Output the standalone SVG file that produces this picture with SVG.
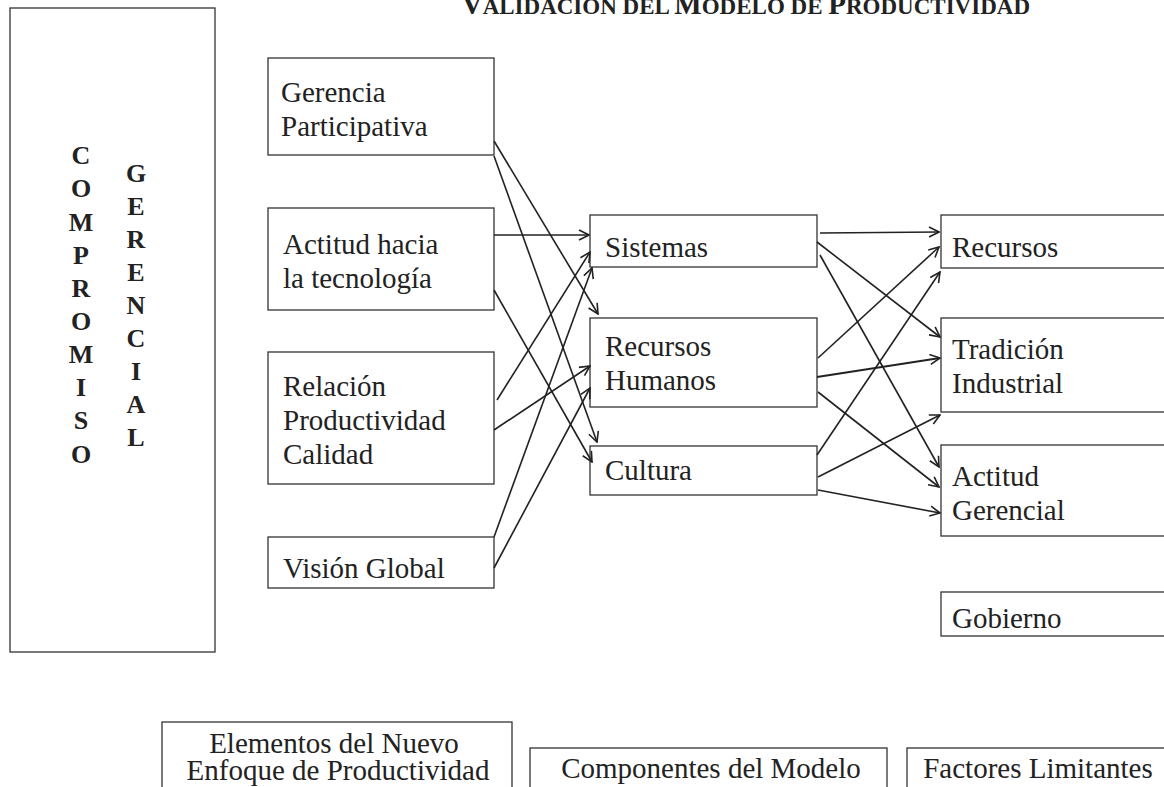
<svg xmlns="http://www.w3.org/2000/svg" width="1164" height="787" viewBox="0 0 1164 787">
<style>
.box{fill:#fff;stroke:#333;stroke-width:1.3}
.t{font-family:"Liberation Serif","Times New Roman",serif;font-size:29px;fill:#222}
.v{font-family:"Liberation Serif","Times New Roman",serif;font-size:26px;font-weight:bold;fill:#222;text-anchor:middle}
.c{text-anchor:middle}
.ttl{font-family:"Liberation Serif","Times New Roman",serif;font-weight:bold;fill:#222;text-anchor:end}
.e{fill:none;stroke:#222;stroke-width:1.6;marker-end:url(#ah)}
</style>
<defs>
<marker id="ah" viewBox="0 0 12 12" refX="11" refY="6" markerWidth="12" markerHeight="12" markerUnits="userSpaceOnUse" orient="auto">
<path d="M1,1 L11,6 L1,11" fill="none" stroke="#222" stroke-width="1.6"/>
</marker>
</defs>
<rect width="1164" height="787" fill="#fff"/>
<text class="ttl" x="1030" y="14"><tspan font-size="29">V</tspan><tspan font-size="23">ALIDACIÓN DEL </tspan><tspan font-size="29">M</tspan><tspan font-size="23">ODELO DE </tspan><tspan font-size="29">P</tspan><tspan font-size="23">RODUCTIVIDAD</tspan></text>
<g id="compromiso">
<rect class="box" x="10" y="8" width="205" height="644"/>
<text class="v" x="81" y="164">C</text>
<text class="v" x="81" y="197">O</text>
<text class="v" x="81" y="231">M</text>
<text class="v" x="81" y="264">P</text>
<text class="v" x="81" y="297">R</text>
<text class="v" x="81" y="330">O</text>
<text class="v" x="81" y="363">M</text>
<text class="v" x="81" y="396">I</text>
<text class="v" x="81" y="429">S</text>
<text class="v" x="81" y="463">O</text>
<text class="v" x="136" y="182">G</text>
<text class="v" x="136" y="215">E</text>
<text class="v" x="136" y="248">R</text>
<text class="v" x="136" y="281">E</text>
<text class="v" x="136" y="314">N</text>
<text class="v" x="136" y="347">C</text>
<text class="v" x="136" y="380">I</text>
<text class="v" x="136" y="413">A</text>
<text class="v" x="136" y="446">L</text>
</g>
<g id="gerencia"><rect class="box" x="268" y="58" width="226" height="97"/><text class="t" x="281" y="102">Gerencia</text><text class="t" x="281" y="136">Participativa</text></g>
<g id="actitud-tec"><rect class="box" x="268" y="208" width="226" height="102"/><text class="t" x="283" y="254">Actitud hacia</text><text class="t" x="283" y="288">la tecnología</text></g>
<g id="relacion"><rect class="box" x="268" y="352" width="226" height="132"/><text class="t" x="283" y="396">Relación</text><text class="t" x="283" y="430">Productividad</text><text class="t" x="283" y="464">Calidad</text></g>
<g id="vision"><rect class="box" x="268" y="537" width="226" height="51"/><text class="t" x="283" y="578">Visión Global</text></g>
<g id="sistemas"><rect class="box" x="590" y="215" width="227" height="52"/><text class="t" x="605" y="257">Sistemas</text></g>
<g id="rrhh"><rect class="box" x="590" y="318" width="227" height="89"/><text class="t" x="605" y="356">Recursos</text><text class="t" x="605" y="390">Humanos</text></g>
<g id="cultura"><rect class="box" x="590" y="446" width="227" height="49"/><text class="t" x="605" y="480">Cultura</text></g>
<g id="recursos"><rect class="box" x="941" y="215" width="240" height="53"/><text class="t" x="952" y="257">Recursos</text></g>
<g id="tradicion"><rect class="box" x="941" y="318" width="240" height="94"/><text class="t" x="952" y="359">Tradición</text><text class="t" x="952" y="393">Industrial</text></g>
<g id="actitud-ger"><rect class="box" x="941" y="445" width="240" height="91"/><text class="t" x="952" y="486">Actitud</text><text class="t" x="952" y="520">Gerencial</text></g>
<g id="gobierno"><rect class="box" x="941" y="592" width="240" height="44"/><text class="t" x="952" y="628">Gobierno</text></g>
<g id="leyenda-elementos"><rect class="box" x="162" y="722" width="350" height="80"/><text class="t c" x="334" y="753">Elementos del Nuevo</text><text class="t c" x="338" y="780">Enfoque de Productividad</text></g>
<g id="leyenda-componentes"><rect class="box" x="530" y="748" width="357" height="60"/><text class="t c" x="711" y="778">Componentes del Modelo</text></g>
<g id="leyenda-factores"><rect class="box" x="907" y="748" width="280" height="60"/><text class="t c" x="1038" y="778">Factores Limitantes</text></g>
<g id="connectors">
<line class="e" x1="494" y1="141" x2="598" y2="314"/>
<line class="e" x1="494" y1="156" x2="597" y2="442"/>
<line class="e" x1="494" y1="235" x2="589" y2="235"/>
<line class="e" x1="494" y1="290" x2="592" y2="462"/>
<line class="e" x1="497" y1="400" x2="590" y2="252"/>
<line class="e" x1="494" y1="430" x2="590" y2="366"/>
<line class="e" x1="494" y1="537" x2="592" y2="268"/>
<line class="e" x1="494" y1="568" x2="590" y2="388"/>
<line class="e" x1="820" y1="233" x2="939" y2="232"/>
<line class="e" x1="817" y1="242" x2="940" y2="337"/>
<line class="e" x1="820" y1="255" x2="939" y2="467"/>
<line class="e" x1="818" y1="358" x2="939" y2="247"/>
<line class="e" x1="817" y1="377" x2="940" y2="358" style="stroke-width:2"/>
<line class="e" x1="818" y1="392" x2="939" y2="487"/>
<line class="e" x1="817" y1="455" x2="940" y2="272"/>
<line class="e" x1="818" y1="477" x2="940" y2="415"/>
<line class="e" x1="818" y1="490" x2="940" y2="513"/>
</g>
</svg>
